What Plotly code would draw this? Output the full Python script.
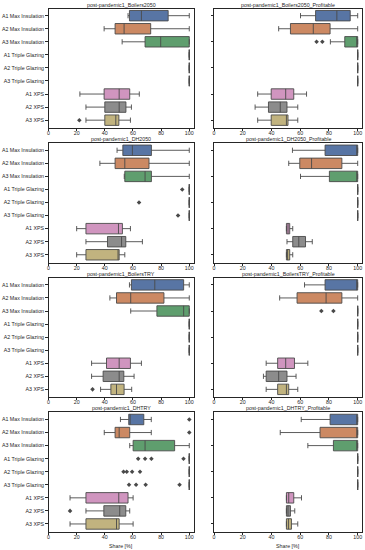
import colorsys
import plotly.graph_objects as go

categories = ["A1 Max Insulation", "A2 Max Insulation", "A3 Max Insulation",
              "A1 Triple Glazing", "A2 Triple Glazing", "A3 Triple Glazing",
              "A1 XPS", "A2 XPS", "A3 XPS"]
palette = ["#4C72B0", "#DD8452", "#55A868", "#C44E52", "#8172B3",
           "#937860", "#DA8BC3", "#8C8C8C", "#CCB974"]
x_ticks = [0, 20, 40, 60, 80, 100]

titles = ["post-pandemic1_Boilers2050", "post-pandemic1_Boilers2050_Profitable",
          "post-pandemic1_DH2050", "post-pandemic1_DH2050_Profitable",
          "post-pandemic1_BoilersTRY", "post-pandemic1_BoilersTRY_Profitable",
          "post-pandemic1_DHTRY", "post-pandemic1_DHTRY_Profitable"]

# each row: [lower whisker, q1, median, q3, upper whisker]
boilers2050 = [
    [56.5, 57.5, 66.0, 85.0, 100], [39.5, 47.3, 53.7, 72.6, 100], [52.3, 68.6, 79.7, 100, 100],
    [100, 100, 100, 100, 100], [100, 100, 100, 100, 100], [100, 100, 100, 100, 100],
    [22.3, 39.5, 50.2, 57.7, 64.5], [26.6, 40.0, 50.2, 55.0, 58.9], [26.6, 40.0, 47.8, 50.0, 58.2]]
boilers2050_out = {8: [21.9]}

boilers2050_prof = [
    [60.2, 70.7, 85.5, 94.8, 100], [45.0, 53.2, 69.1, 80.8, 100], [81.0, 91.0, 100, 100, 100],
    [100, 100, 100, 100, 100], [100, 100, 100, 100, 100], [100, 100, 100, 100, 100],
    [30.4, 39.8, 49.9, 55.5, 64.4], [28.6, 37.9, 46.1, 50.8, 58.3], [30.4, 39.8, 50.4, 51.5, 58.3]]
boilers2050_prof_out = {2: [71.4, 75.4]}

dh2050 = [
    [48.7, 52.8, 59.6, 73.1, 100], [36.5, 47.3, 54.2, 71.4, 100], [53.8, 54.2, 68.6, 73.1, 100],
    [100, 100, 100, 100, 100], [100, 100, 100, 100, 100], [100, 100, 100, 100, 100],
    [20.0, 26.6, 49.7, 52.5, 58.2], [26.6, 41.9, 51.9, 54.9, 66.7], [20.0, 26.6, 49.4, 50.2, 54.2]]
dh2050_out = {3: [95.0], 4: [64.3], 5: [92.0]}

dh2050_prof = [
    [54.6, 77.3, 100, 100, 100], [52.0, 59.7, 67.9, 89.0, 100], [60.2, 80.3, 100, 100, 100],
    [100, 100, 100, 100, 100], [100, 100, 100, 100, 100], [100, 100, 100, 100, 100],
    [50.4, 50.4, 51.5, 52.7, 54.8], [50.8, 54.8, 59.0, 63.7, 68.4], [50.4, 50.4, 51.2, 52.7, 54.8]]
dh2050_prof_out = {}

boilerstry = [
    [57.5, 58.9, 75.5, 96.0, 100], [43.6, 48.3, 58.4, 82.0, 100], [58.4, 77.0, 96.0, 100, 100],
    [100, 100, 100, 100, 100], [100, 100, 100, 100, 100], [100, 100, 100, 100, 100],
    [30.6, 41.2, 50.2, 58.2, 66.0], [30.6, 38.8, 50.2, 53.5, 60.8], [37.0, 44.3, 48.3, 53.7, 59.1]]
boilerstry_out = {8: [31.3]}

boilerstry_prof = [
    [63.0, 77.3, 100, 100, 100], [45.7, 57.8, 78.0, 89.0, 100], [100, 100, 100, 100, 100],
    [100, 100, 100, 100, 100], [100, 100, 100, 100, 100], [100, 100, 100, 100, 100],
    [36.3, 44.3, 49.9, 56.0, 65.3], [34.4, 36.3, 45.0, 50.8, 57.1], [36.3, 44.3, 50.4, 52.0, 58.3]]
boilerstry_prof_out = {2: [74.7, 83.1]}

dhtry = [
    [51.1, 57.0, 58.0, 67.7, 73.0], [39.6, 47.3, 50.2, 57.7, 73.0], [57.7, 60.1, 68.6, 89.6, 100],
    [100, 100, 100, 100, 100], [100, 100, 100, 100, 100], [100, 100, 100, 100, 100],
    [15.3, 26.6, 49.9, 56.5, 60.1], [26.6, 39.3, 50.6, 54.9, 57.7], [15.3, 26.6, 48.3, 50.2, 60.1]]
dhtry_out = {0: [100], 1: [100], 3: [63.7, 68.6, 73.1, 95.9], 4: [53.3, 55.6, 59.4, 65.0],
             5: [57.2, 62.2, 69.0, 93.1], 7: [15.3]}

dhtry_prof = [
    [60.7, 80.8, 100, 100, 100], [46.1, 73.8, 100, 100, 100], [65.3, 83.1, 100, 100, 100],
    [100, 100, 100, 100, 100], [100, 100, 100, 100, 100], [100, 100, 100, 100, 100],
    [50.4, 50.4, 52.0, 55.5, 60.9], [50.4, 50.4, 51.5, 53.2, 56.2], [50.4, 50.4, 51.8, 53.9, 58.3]]
dhtry_prof_out = {}

panels = [(boilers2050, boilers2050_out), (boilers2050_prof, boilers2050_prof_out),
          (dh2050, dh2050_out), (dh2050_prof, dh2050_prof_out),
          (boilerstry, boilerstry_out), (boilerstry_prof, boilerstry_prof_out),
          (dhtry, dhtry_out), (dhtry_prof, dhtry_prof_out)]


def hex_to_rgb(h):
    return tuple(int(h[i:i + 2], 16) / 255 for i in (1, 3, 5))


def desaturate(h, prop=0.75):
    r, g, b = hex_to_rgb(h)
    hh, ll, ss = colorsys.rgb_to_hls(r, g, b)
    r, g, b = colorsys.hls_to_rgb(hh, ll, ss * prop)
    return "rgb(%d,%d,%d)" % (round(r * 255), round(g * 255), round(b * 255))


fills = [desaturate(c) for c in palette]
lum = min(colorsys.rgb_to_hls(*hex_to_rgb(c))[1] for c in palette) * 0.6
gv = round(lum * 255)
gray = "rgb(%d,%d,%d)" % (gv, gv, gv)
axcol = "#262626"

W, H = 365, 550
FONT = dict(family="Liberation Sans, Arial, sans-serif", size=5.3, color=axcol)
xdom_px = [(48.5, 193.5), (214.0, 362.0)]
row_top = [8.5 + r * 134.6 for r in range(4)]
row_h = 119.5

fig = go.Figure()
layout = dict(width=W, height=H, margin=dict(l=0, r=0, t=0, b=0),
              paper_bgcolor="white", plot_bgcolor="white", showlegend=False,
              font=FONT, annotations=[])

for i, (stats, outs) in enumerate(panels):
    r, c = divmod(i, 2)
    suf = "" if i == 0 else str(i + 1)
    xa, ya = "x" + suf, "y" + suf
    for k, cat in enumerate(categories):
        lo, q1, med, q3, hi = stats[k]
        fig.add_trace(go.Box(orientation="h", y=[cat], q1=[q1], median=[med], q3=[q3],
                             lowerfence=[lo], upperfence=[hi], xaxis=xa, yaxis=ya,
                             fillcolor=fills[k], line=dict(color=gray, width=0.9),
                             whiskerwidth=0.5, width=0.8, boxpoints=False,
                             hoverinfo="skip", showlegend=False))
        if k in outs:
            fig.add_trace(go.Scatter(x=outs[k], y=[cat] * len(outs[k]), mode="markers",
                                     xaxis=xa, yaxis=ya,
                                     marker=dict(symbol="diamond", size=3.5, color=gray,
                                                 line=dict(width=0)),
                                     hoverinfo="skip", showlegend=False))
    x0, x1 = xdom_px[c]
    top = row_top[r]
    bot = top + row_h
    layout["xaxis" + suf] = dict(domain=[x0 / W, x1 / W], anchor=ya, range=[0, 103],
                                 tickvals=x_ticks, ticks="outside", ticklen=2, tickwidth=0.8,
                                 tickcolor=axcol, showline=True, mirror=True, linecolor=axcol,
                                 linewidth=0.8, showgrid=False, zeroline=False,
                                 tickfont=FONT, automargin=False, ticklabelstandoff=-2)
    layout["yaxis" + suf] = dict(domain=[1 - bot / H, 1 - top / H], anchor=xa, type="category",
                                 categoryorder="array", categoryarray=categories,
                                 range=[8.6, -0.55], ticks="outside", ticklen=2.5,
                                 tickwidth=0.8, tickcolor=axcol, showline=True, mirror=True,
                                 linecolor=axcol, linewidth=0.8, showgrid=False,
                                 zeroline=False, showticklabels=(c == 0), tickfont=FONT,
                                 automargin=False)
    layout["annotations"].append(dict(text=titles[i], x=(x0 + x1) / 2 / W, y=1 - (top - 3.8) / H,
                                      xref="paper", yref="paper", xanchor="center",
                                      yanchor="middle", showarrow=False, font=FONT))
    if r == 3:
        layout["annotations"].append(dict(text="Share [%]", x=(x0 + x1) / 2 / W,
                                          y=1 - 545.5 / H, xref="paper", yref="paper",
                                          xanchor="center", yanchor="middle",
                                          showarrow=False, font=FONT))

fig.update_layout(**layout)
fig.write_html("out.html", config={"displayModeBar": False},
               post_script="document.body.style.margin='0';")
